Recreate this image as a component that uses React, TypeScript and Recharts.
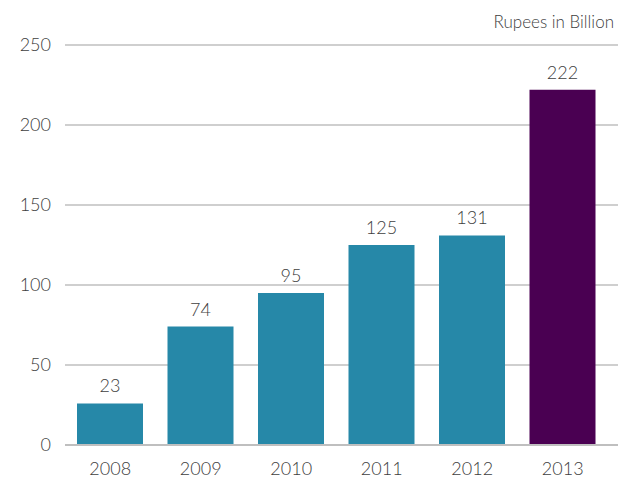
import { BarChart, Bar, XAxis, YAxis, CartesianGrid, LabelList, Cell } from 'recharts';

const years = ['2008', '2009', '2010', '2011', '2012', '2013'];
// bar heights as drawn; the printed labels are listed separately
const values = [26, 74, 95, 125, 131, 222];
const labels = ['23', '74', '95', '125', '131', '222'];
const yTicks = [0, 50, 100, 150, 200, 250];

const TEAL = '#2688a8';
const PURPLE = '#4a0052';

const data = years.map((y, i) => ({ year: y, value: values[i], label: labels[i] }));

const font = 'Lato, "DejaVu Sans", sans-serif';

export default function App() {
  return (
    <div style={{ position: 'relative', width: 628, height: 487, margin: -8, fontFamily: font }}>
      <div
        style={{
          position: 'absolute',
          right: 14,
          top: 11,
          fontSize: 17,
          fontWeight: 300,
          color: '#404040',
        }}
      >
        Rupees in Billion
      </div>
      <BarChart
        width={628}
        height={487}
        data={data}
        margin={{ top: 45, right: 10, left: 0, bottom: 0 }}
      >
        <CartesianGrid vertical={false} stroke="#bfbfbf" strokeWidth={1.5} />
        <XAxis
          dataKey="year"
          height={42}
          axisLine={{ stroke: '#bfbfbf', strokeWidth: 2 }}
          tickLine={false}
          tickSize={0}
          tickMargin={17}
          padding={{ left: 0, right: 10 }}
          tick={{ fill: '#404040', fontSize: 18, fontWeight: 300, fontFamily: font }}
        />
        <YAxis
          width={65}
          domain={[0, 250]}
          ticks={yTicks}
          axisLine={false}
          tickLine={false}
          tickSize={0}
          tickMargin={14}
          tick={{ fill: '#404040', fontSize: 18, fontWeight: 300, fontFamily: font }}
        />
        <Bar dataKey="value" barSize={66} isAnimationActive={false}>
          {data.map((d, i) => (
            <Cell key={d.year} fill={i === data.length - 1 ? PURPLE : TEAL} />
          ))}
          <LabelList
            dataKey="label"
            position="top"
            offset={11}
            fill="#404040"
            fontSize={18}
            fontWeight={300}
            fontFamily={font}
          />
        </Bar>
      </BarChart>
    </div>
  );
}
